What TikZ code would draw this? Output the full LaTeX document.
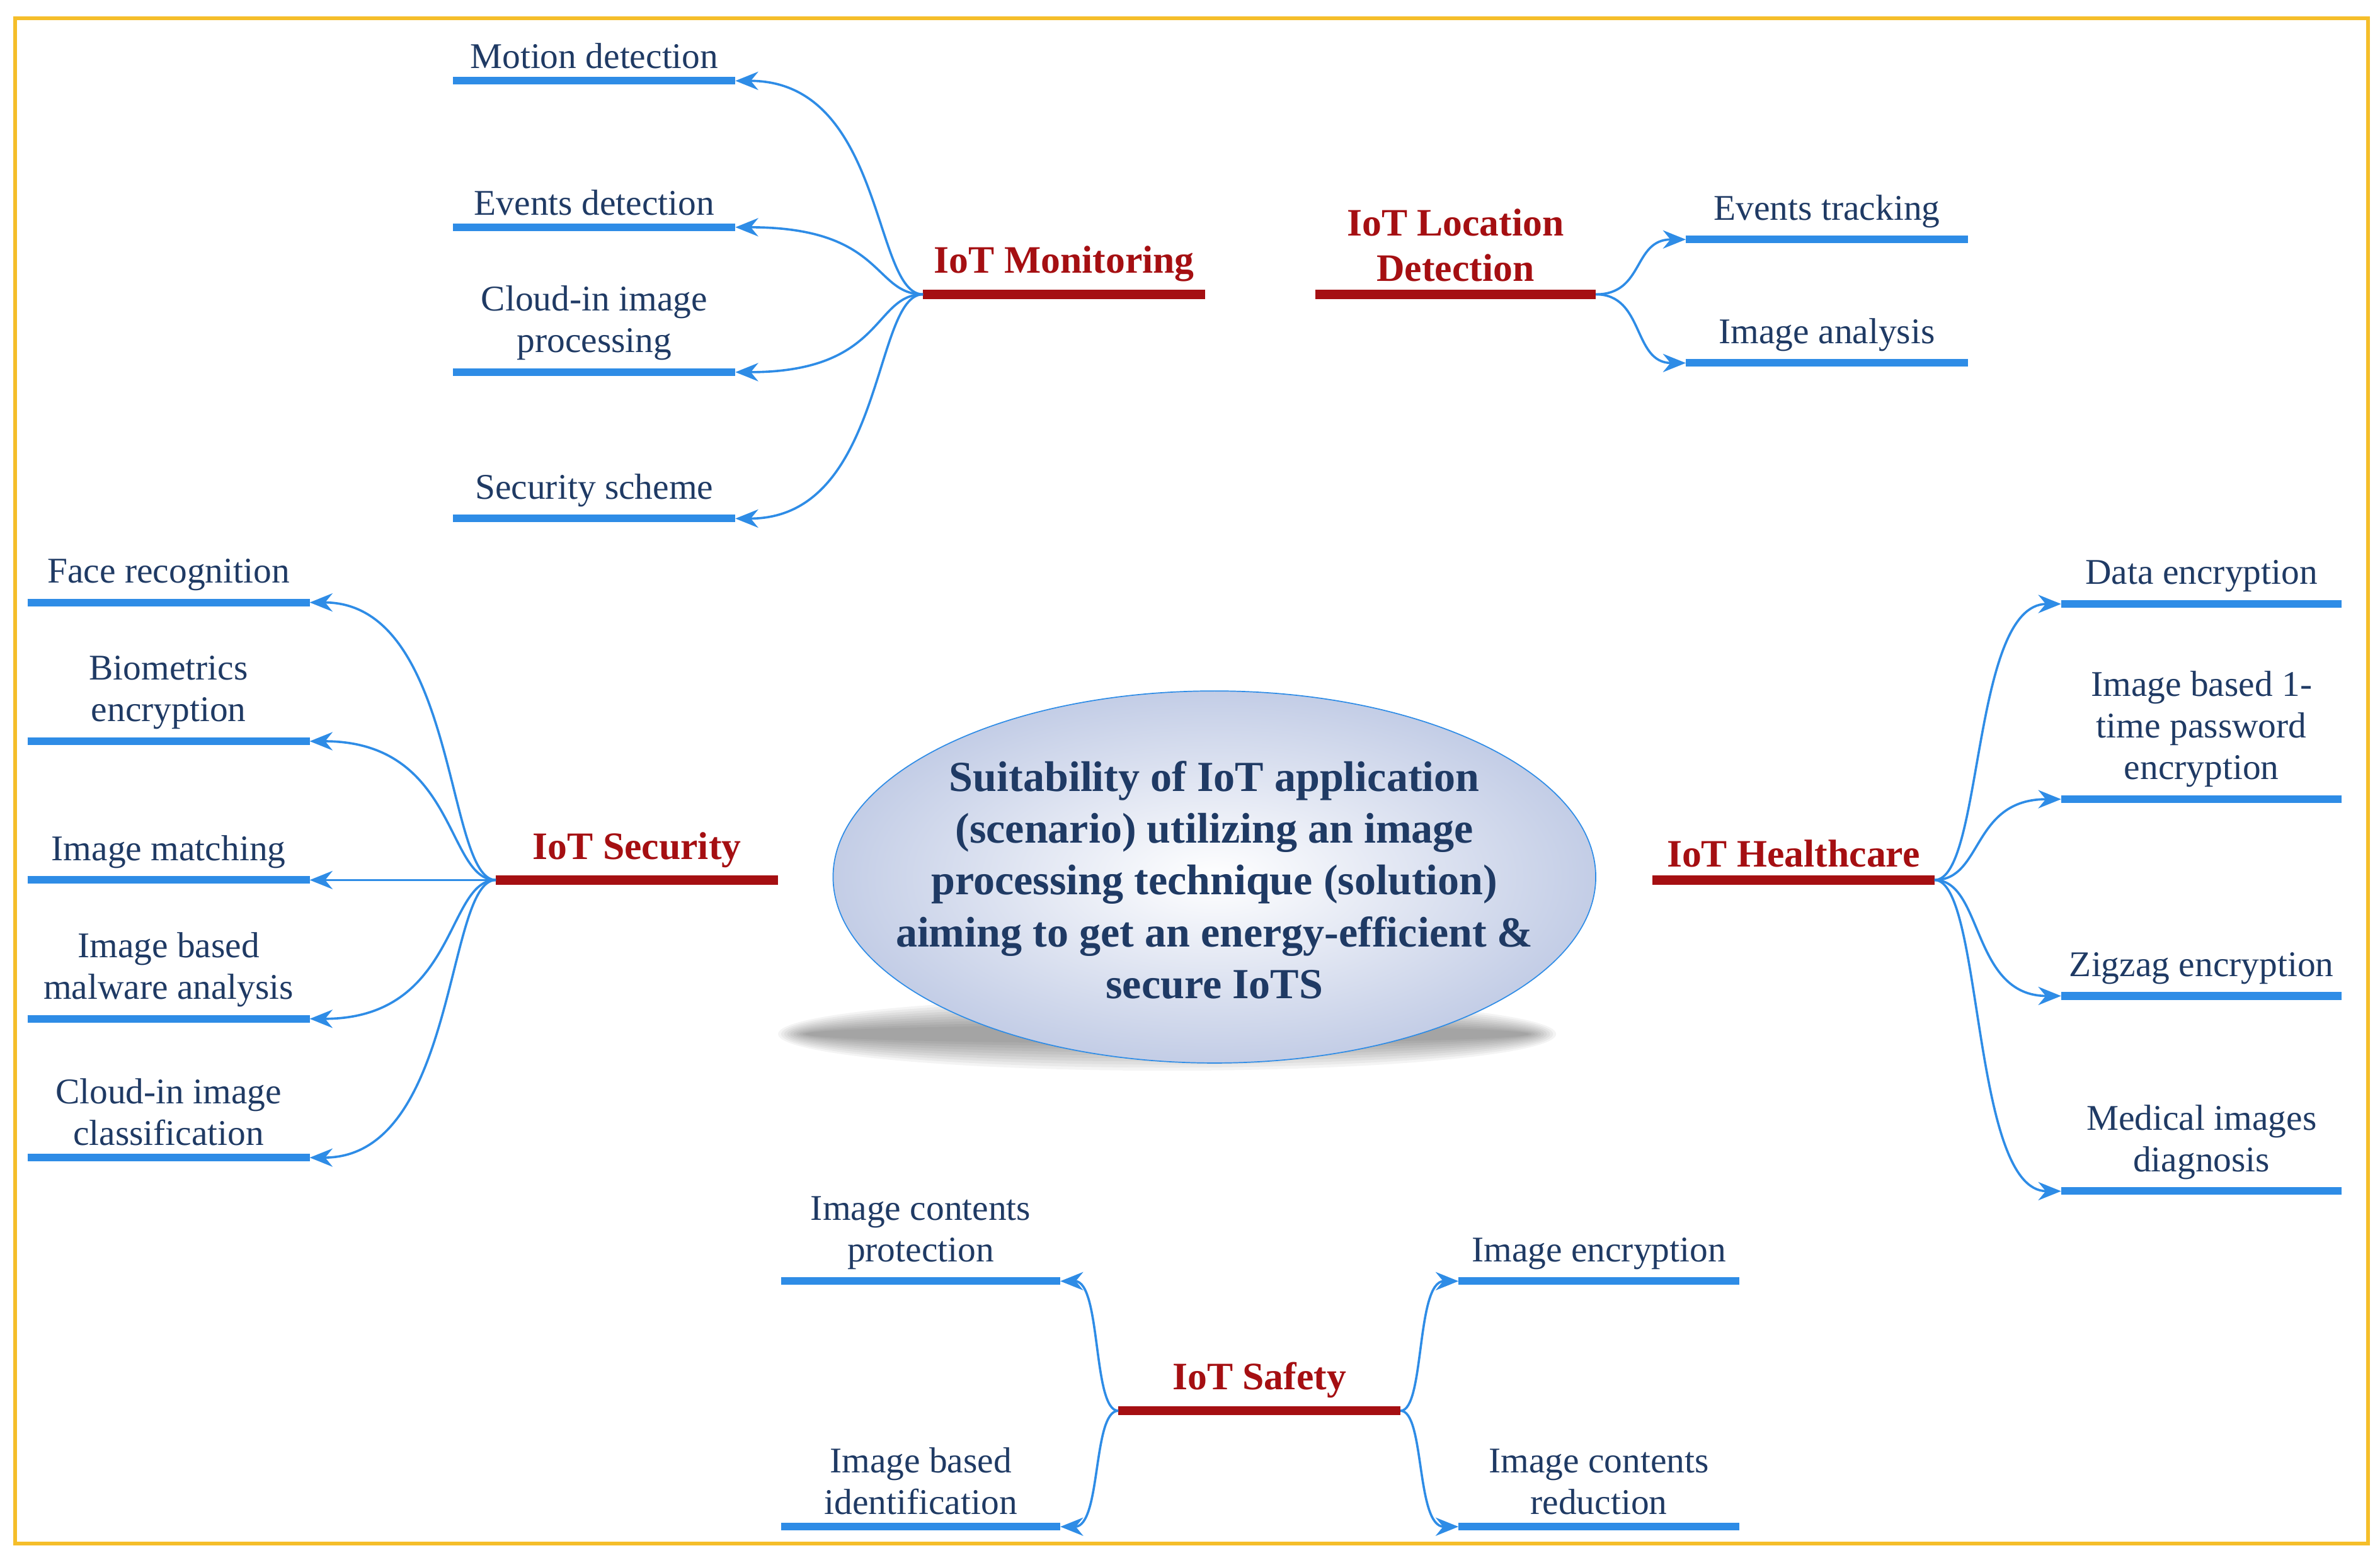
\documentclass[tikz,border=0pt]{standalone}
\usepackage{fontspec}
\setmainfont{Liberation Serif}
\usetikzlibrary{arrows.meta,positioning,shapes.geometric}

\definecolor{leafblue}{HTML}{2E8CE6}
\definecolor{headred}{HTML}{A50F12}
\definecolor{txtblue}{HTML}{1F3A64}
\definecolor{frameorange}{HTML}{F5BE2A}
\definecolor{ellblue}{HTML}{C3CDE6}

\tikzset{
  leaf/.style={draw=leafblue, line width=0.1cm},
  head/.style={draw=headred, line width=0.12cm},
  conn/.style={draw=leafblue, line width=0.03cm, -{Stealth[length=0.3cm,width=0.24cm]}},
  leaftext/.style={text=txtblue, align=center, anchor=south, inner sep=3pt,
    font=\fontsize{13.5}{15.5}\selectfont},
  headtext/.style={text=headred, align=center, anchor=south, inner sep=3pt,
    font=\bfseries\fontsize{14.5}{17}\selectfont}
}

% a labelled line: name, x left, x right, y, text
\newcommand\leafline[5]{%
  \coordinate (#1-l) at (#2,#4);
  \coordinate (#1-r) at (#3,#4);
  \draw[leaf] (#1-l) -- node[leaftext] (#1-t) {#5} (#1-r);}
\newcommand\headline[5]{%
  \coordinate (#1-l) at (#2,#4);
  \coordinate (#1-r) at (#3,#4);
  \draw[head] (#1-l) -- node[headtext] (#1-t) {#5} (#1-r);}

\begin{document}
\begin{tikzpicture}[x=0.02cm,y=-0.02cm]
  \useasboundingbox (0,0) rectangle (1560,1018);
  \draw[frameorange, line width=0.05cm] (10,12) rectangle (1552,1012);

  % centre
  \foreach \i in {0,...,9}
    \fill[black, opacity=0.045] (765,678) ellipse ({255-2*\i} and {24-2*\i});
  \node[draw=leafblue, thin, ellipse, minimum width=10cm, minimum height=4.88cm,
    inner color=white, outer color=ellblue] (core) at (796,575) {};
  \node[text=txtblue, align=center, font=\bfseries\fontsize{16}{19.3}\selectfont] (core-t) at (796,577)
    {Suitability of IoT application\\(scenario) utilizing an image\\processing technique (solution)\\aiming to get an energy-efficient \&\\secure IoTS};

  % heads
  \headline{mon}{605}{790}{193}{IoT Monitoring}
  \headline{loc}{862}{1046}{193}{IoT Location\\Detection}
  \headline{sec}{325}{510}{577}{IoT Security}
  \headline{hea}{1083}{1268}{577}{IoT Healthcare}
  \headline{saf}{733}{918}{925}{IoT Safety}

  % monitoring
  \leafline{m1}{297}{482}{53}{Motion detection}
  \leafline{m2}{297}{482}{149}{Events detection}
  \leafline{m3}{297}{482}{244}{Cloud-in image\\processing}
  \leafline{m4}{297}{482}{340}{Security scheme}
  \foreach \n/\y in {m1/53,m2/149,m3/244,m4/340}
    \draw[conn] (mon-l) .. controls (572,193) and (580,\y) .. (\n-r);

  % location
  \leafline{l1}{1105}{1290}{157}{Events tracking}
  \leafline{l2}{1105}{1290}{238}{Image analysis}
  \foreach \n/\y in {l1/157,l2/238}
    \draw[conn] (loc-r) .. controls (1078,193) and (1070,\y) .. (\n-l);

  % security
  \leafline{s1}{18}{203}{395}{Face recognition}
  \leafline{s2}{18}{203}{486}{Biometrics\\encryption}
  \leafline{s3}{18}{203}{577}{Image matching}
  \leafline{s4}{18}{203}{668}{Image based\\malware analysis}
  \leafline{s5}{18}{203}{759}{Cloud-in image\\classification}
  \foreach \n/\y in {s1/395,s2/486,s3/577,s4/668,s5/759}
    \draw[conn] (sec-l) .. controls (292,577) and (300,\y) .. (\n-r);

  % healthcare
  \leafline{h1}{1351}{1535}{396}{Data encryption}
  \leafline{h2}{1351}{1535}{524}{Image based 1-\\time password\\encryption}
  \leafline{h3}{1351}{1535}{653}{Zigzag encryption}
  \leafline{h4}{1351}{1535}{781}{Medical images\\diagnosis}
  \foreach \n/\y in {h1/396,h2/524,h3/653,h4/781}
    \draw[conn] (hea-r) .. controls (1300,577) and (1292,\y) .. (\n-l);

  % safety
  \leafline{f1}{512}{695}{840}{Image contents\\protection}
  \leafline{f2}{512}{695}{1001}{Image based\\identification}
  \leafline{f3}{956}{1140}{840}{Image encryption}
  \leafline{f4}{956}{1140}{1001}{Image contents\\reduction}
  \foreach \n/\y in {f1/840,f2/1001}
    \draw[conn] (saf-l) .. controls (716,925) and (722,\y) .. (\n-r);
  \foreach \n/\y in {f3/840,f4/1001}
    \draw[conn] (saf-r) .. controls (934,925) and (928,\y) .. (\n-l);
\end{tikzpicture}
\end{document}
